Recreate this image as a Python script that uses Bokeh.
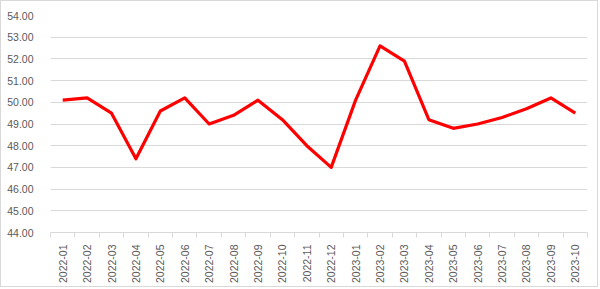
import math
from bokeh.plotting import figure
from bokeh.models import FixedTicker, PrintfTickFormatter, ColumnDataSource
from bokeh.embed import file_html
from bokeh.resources import INLINE

months = ["2022-01", "2022-02", "2022-03", "2022-04", "2022-05", "2022-06",
          "2022-07", "2022-08", "2022-09", "2022-10", "2022-11", "2022-12",
          "2023-01", "2023-02", "2023-03", "2023-04", "2023-05", "2023-06",
          "2023-07", "2023-08", "2023-09", "2023-10"]
pmi = [50.1, 50.2, 49.5, 47.4, 49.6, 50.2, 49.0, 49.4, 50.1, 49.2, 48.0, 47.0,
       50.1, 52.6, 51.9, 49.2, 48.8, 49.0, 49.3, 49.7, 50.2, 49.5]
y_ticks = [44, 45, 46, 47, 48, 49, 50, 51, 52, 53, 54]

n = len(months)
xs = [i + 0.5 for i in range(n)]
src = ColumnDataSource(dict(x=xs, y=pmi, m=months))

p = figure(width=598, height=287, output_backend="svg", toolbar_location=None,
           x_range=(0, n), y_range=(44, 54),
           min_border_left=49, min_border_right=12, min_border_top=14, min_border_bottom=56,
           styles={"border": "1px solid #d9d9d9"})
p.outline_line_color = None
p.background_fill_color = "white"
p.border_fill_color = "white"

p.line("x", "y", source=src, line_color="#ff0000", line_width=3.2, line_join="round")

# y axis
p.yaxis.ticker = FixedTicker(ticks=y_ticks)
p.yaxis.formatter = PrintfTickFormatter(format="%.2f")
p.yaxis.axis_line_color = None
p.yaxis.major_tick_line_color = None
p.yaxis.minor_tick_line_color = None
p.yaxis.major_label_standoff = 11
p.yaxis.major_label_text_font = "Liberation Sans"
p.yaxis.major_label_text_font_size = "10.5px"
p.yaxis.major_label_text_color = "#595959"

p.ygrid.ticker = FixedTicker(ticks=y_ticks)
p.ygrid.grid_line_color = "#d9d9d9"
p.ygrid.grid_line_width = 1
p.xgrid.grid_line_color = None

# x axis
p.xaxis.ticker = FixedTicker(ticks=xs, minor_ticks=list(range(n + 1)))
p.xaxis.major_label_overrides = {x: m for x, m in zip(xs, months)}
p.xaxis.major_label_orientation = math.pi / 2
p.xaxis.axis_line_color = "#d9d9d9"
p.xaxis.major_tick_line_color = None
p.xaxis.major_tick_out = 0
p.xaxis.major_tick_in = 0
p.xaxis.minor_tick_line_color = "#d9d9d9"
p.xaxis.minor_tick_out = 5
p.xaxis.minor_tick_in = 0
p.xaxis.major_label_standoff = 7
p.xaxis.major_label_text_font = "Liberation Sans"
p.xaxis.major_label_text_font_size = "10.5px"
p.xaxis.major_label_text_color = "#595959"

open("out.html", "w").write(file_html(p, INLINE))
